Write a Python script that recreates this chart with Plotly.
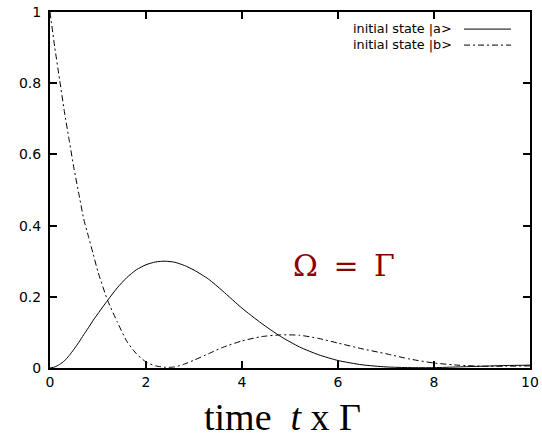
import plotly.graph_objects as go

# time axis (t x Gamma)
t = [0, 0.1, 0.2, 0.3, 0.4, 0.5, 0.6, 0.7, 0.8, 0.9, 1.0, 1.2, 1.4, 1.6, 1.8, 2.0,
     2.2, 2.4, 2.6, 2.8, 3.0, 3.3, 3.6, 4.0, 4.4, 4.8, 5.2, 5.6, 6.0, 6.5, 7.0,
     7.5, 8.0, 8.5, 9.0, 9.5, 10.0]

# initial state |a>
pop_a = [0.0, 0.003, 0.010, 0.020, 0.035, 0.053, 0.072, 0.093, 0.113, 0.134, 0.153,
         0.190, 0.225, 0.254, 0.276, 0.290, 0.298, 0.300, 0.297, 0.288, 0.275,
         0.250, 0.216, 0.168, 0.126, 0.089, 0.059, 0.037, 0.021, 0.009, 0.003,
         0.001, 0.001, 0.003, 0.005, 0.007, 0.008]

# initial state |b>
pop_b = [1.0, 0.90, 0.81, 0.72, 0.64, 0.56, 0.49, 0.42, 0.37, 0.32, 0.27,
         0.19, 0.13, 0.075, 0.040, 0.017, 0.006, 0.002, 0.003, 0.011, 0.022,
         0.040, 0.058, 0.076, 0.088, 0.093, 0.092, 0.083, 0.070, 0.054, 0.040,
         0.025, 0.014, 0.008, 0.005, 0.005, 0.006]

x_ticks = [0, 2, 4, 6, 8, 10]
y_ticks = [0, 0.2, 0.4, 0.6, 0.8, 1]
y_ticktext = ["0", "0.2", "0.4", "0.6", "0.8", "1"]

legend_a = "initial state |a>"
legend_b = "initial state |b>"
x_title = "time\u00a0\u00a0<i>t</i>\u00a0x\u00a0Γ"
inset = "Ω\u00a0\u2009=\u00a0\u2009Γ"

SANS = "DejaVu Sans, Verdana, sans-serif"
DASHDOT = "6px,3px,2px,3px"

fig = go.Figure()
fig.add_trace(go.Scatter(x=t, y=pop_a, mode="lines", name=legend_a,
                         line=dict(color="black", width=1, shape="spline", smoothing=0.6)))
fig.add_trace(go.Scatter(x=t, y=pop_b, mode="lines", name=legend_b,
                         line=dict(color="black", width=1, dash=DASHDOT,
                                   shape="spline", smoothing=0.6)))

axis_common = dict(showgrid=False, zeroline=False, showline=True, linecolor="black",
                   linewidth=2, mirror="allticks", ticks="inside", ticklen=7,
                   tickwidth=1.5, tickcolor="black", automargin=False,
                   tickfont=dict(family=SANS, size=14, color="black"))

fig.update_xaxes(range=[0, 10], tickvals=x_ticks, ticktext=[str(v) for v in x_ticks],
                 **axis_common)
fig.update_yaxes(range=[0, 1], tickvals=y_ticks, ticktext=y_ticktext,
                 ticklabelstandoff=4, **axis_common)

annotations = [
    dict(text=legend_a, x=0.842, y=0.952, xref="paper", yref="paper",
         xanchor="right", yanchor="middle", showarrow=False,
         font=dict(family=SANS, size=12.8, color="black")),
    dict(text=legend_b, x=0.842, y=0.907, xref="paper", yref="paper",
         xanchor="right", yanchor="middle", showarrow=False,
         font=dict(family=SANS, size=12.8, color="black")),
    dict(text=inset, x=0.6135, y=0.289, xref="paper", yref="paper",
         xanchor="center", yanchor="middle", showarrow=False,
         font=dict(family="DejaVu Serif, serif", size=30, color="#8b0000")),
    dict(text=x_title, x=0.484, y=-0.1376, xref="paper", yref="paper",
         xanchor="center", yanchor="middle", showarrow=False,
         font=dict(family="Liberation Serif, Times New Roman, serif", size=38,
                   color="black")),
]

shapes = [
    dict(type="line", xref="paper", yref="paper", x0=0.8625, x1=0.9604,
         y0=0.952, y1=0.952, line=dict(color="black", width=1)),
    dict(type="line", xref="paper", yref="paper", x0=0.8625, x1=0.9604,
         y0=0.907, y1=0.907, line=dict(color="black", width=1, dash=DASHDOT)),
]

fig.update_layout(width=542, height=438, margin=dict(l=50, r=12, t=12, b=70),
                  paper_bgcolor="white", plot_bgcolor="white", showlegend=False,
                  annotations=annotations, shapes=shapes)

fig.write_html("out.html", config={"displayModeBar": False},
               post_script="document.body.style.margin='0';document.body.style.padding='0';")
